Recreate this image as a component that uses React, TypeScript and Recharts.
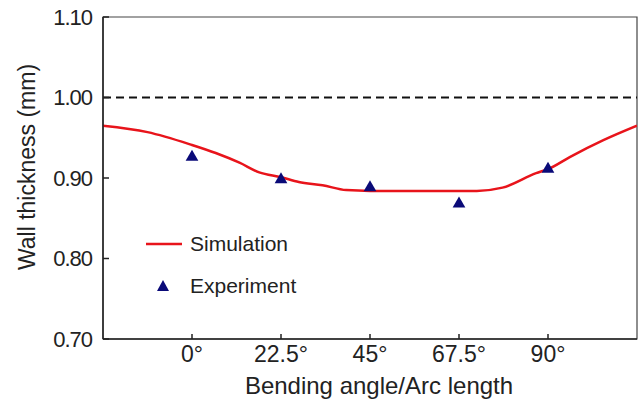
import { ComposedChart, Line, Scatter, XAxis, YAxis, ZAxis, ReferenceLine, ReferenceArea } from 'recharts';

const xTicks = [0, 22.5, 45, 67.5, 90];
const yTicks = [0.7, 0.8, 0.9, 1.0, 1.1];

const simAngles = [-22.5, -11.25, 0, 6, 12, 17, 22.5, 27, 33, 39, 45, 56, 67.5, 72, 78.5, 87, 90, 95.5, 104, 112.5];
const simThickness = [0.965, 0.957, 0.941, 0.931, 0.919, 0.907, 0.901, 0.895, 0.891, 0.885, 0.884, 0.884, 0.884, 0.884, 0.888, 0.906, 0.911, 0.926, 0.947, 0.965];

const expAngles = [0, 22.5, 45, 67.5, 90];
const expThickness = [0.926, 0.898, 0.888, 0.868, 0.911];

const nominalThickness = 1.0;

const simData = simAngles.map((x, i) => ({ x, y: simThickness[i] }));
const expData = expAngles.map((x, i) => ({ x, y: expThickness[i] }));

const font = 'Liberation Sans, Arial, sans-serif';
const axisColor = '#222';
const textColor = '#222';
const simColor = '#e8141b';
const expColor = '#0a0a78';

// legend sits inside the plot, so keep it out of the chart's layout
const LegendBox = () => (
  <div style={{ position: 'absolute', left: 145, top: 223, fontFamily: font, fontSize: 21, color: textColor, lineHeight: '42px' }}>
    <div style={{ display: 'flex', alignItems: 'center' }}>
      <svg width={38} height={10} style={{ marginRight: 7 }}>
        <line x1={1} y1={5} x2={37} y2={5} stroke={simColor} strokeWidth={2.5} />
      </svg>
      <span>Simulation</span>
    </div>
    <div style={{ display: 'flex', alignItems: 'center' }}>
      <svg width={38} height={14} style={{ marginRight: 7 }}>
        <polygon points="18,1 24,12 12,12" fill={expColor} />
      </svg>
      <span>Experiment</span>
    </div>
  </div>
);

export default function App() {
  return (
    <div style={{ position: 'absolute', left: 0, top: 0, width: 639, height: 406, background: '#fff' }}>
      <ComposedChart width={639} height={406} margin={{ top: 17, right: 2, left: 0, bottom: 0 }}>
        <XAxis
          type="number"
          dataKey="x"
          domain={[-22.5, 112.5]}
          ticks={xTicks}
          tickFormatter={(v) => `${v}°`}
          height={67}
          allowDataOverflow
          stroke={axisColor}
          strokeWidth={1.5}
          tickSize={-5}
          tickMargin={12}
          tick={{ fill: textColor, fontSize: 23, fontFamily: font }}
          label={{ value: 'Bending angle/Arc length', position: 'insideBottom', offset: 12, dx: 9, fill: textColor, fontSize: 24, fontFamily: font }}
        />
        <YAxis
          type="number"
          dataKey="y"
          domain={[0.7, 1.1]}
          ticks={yTicks}
          tickFormatter={(v) => v.toFixed(2)}
          width={103}
          allowDataOverflow
          stroke={axisColor}
          strokeWidth={1.5}
          tickSize={-6}
          tickMargin={17}
          tick={{ fill: textColor, fontSize: 22, fontFamily: font, letterSpacing: -1 }}
          label={{ value: 'Wall thickness (mm)', angle: -90, position: 'insideLeft', offset: 27, dy: -11, style: { textAnchor: 'middle' }, fill: textColor, fontSize: 23, fontFamily: font }}
        />
        <ZAxis range={[70, 70]} />
        <ReferenceArea x1={-22.5} x2={112.5} y1={0.7} y2={1.1} fill="none" stroke="#444" strokeWidth={1.2} />
        <ReferenceLine y={nominalThickness} stroke="#111" strokeWidth={2} strokeDasharray="8 5" />
        <Line
          data={simData}
          dataKey="y"
          type="monotone"
          stroke={simColor}
          strokeWidth={2.5}
          dot={false}
          isAnimationActive={false}
          name="Simulation"
        />
        <Scatter
          data={expData}
          dataKey="y"
          shape="triangle"
          fill={expColor}
          isAnimationActive={false}
          name="Experiment"
        />
      </ComposedChart>
      <LegendBox />
    </div>
  );
}
